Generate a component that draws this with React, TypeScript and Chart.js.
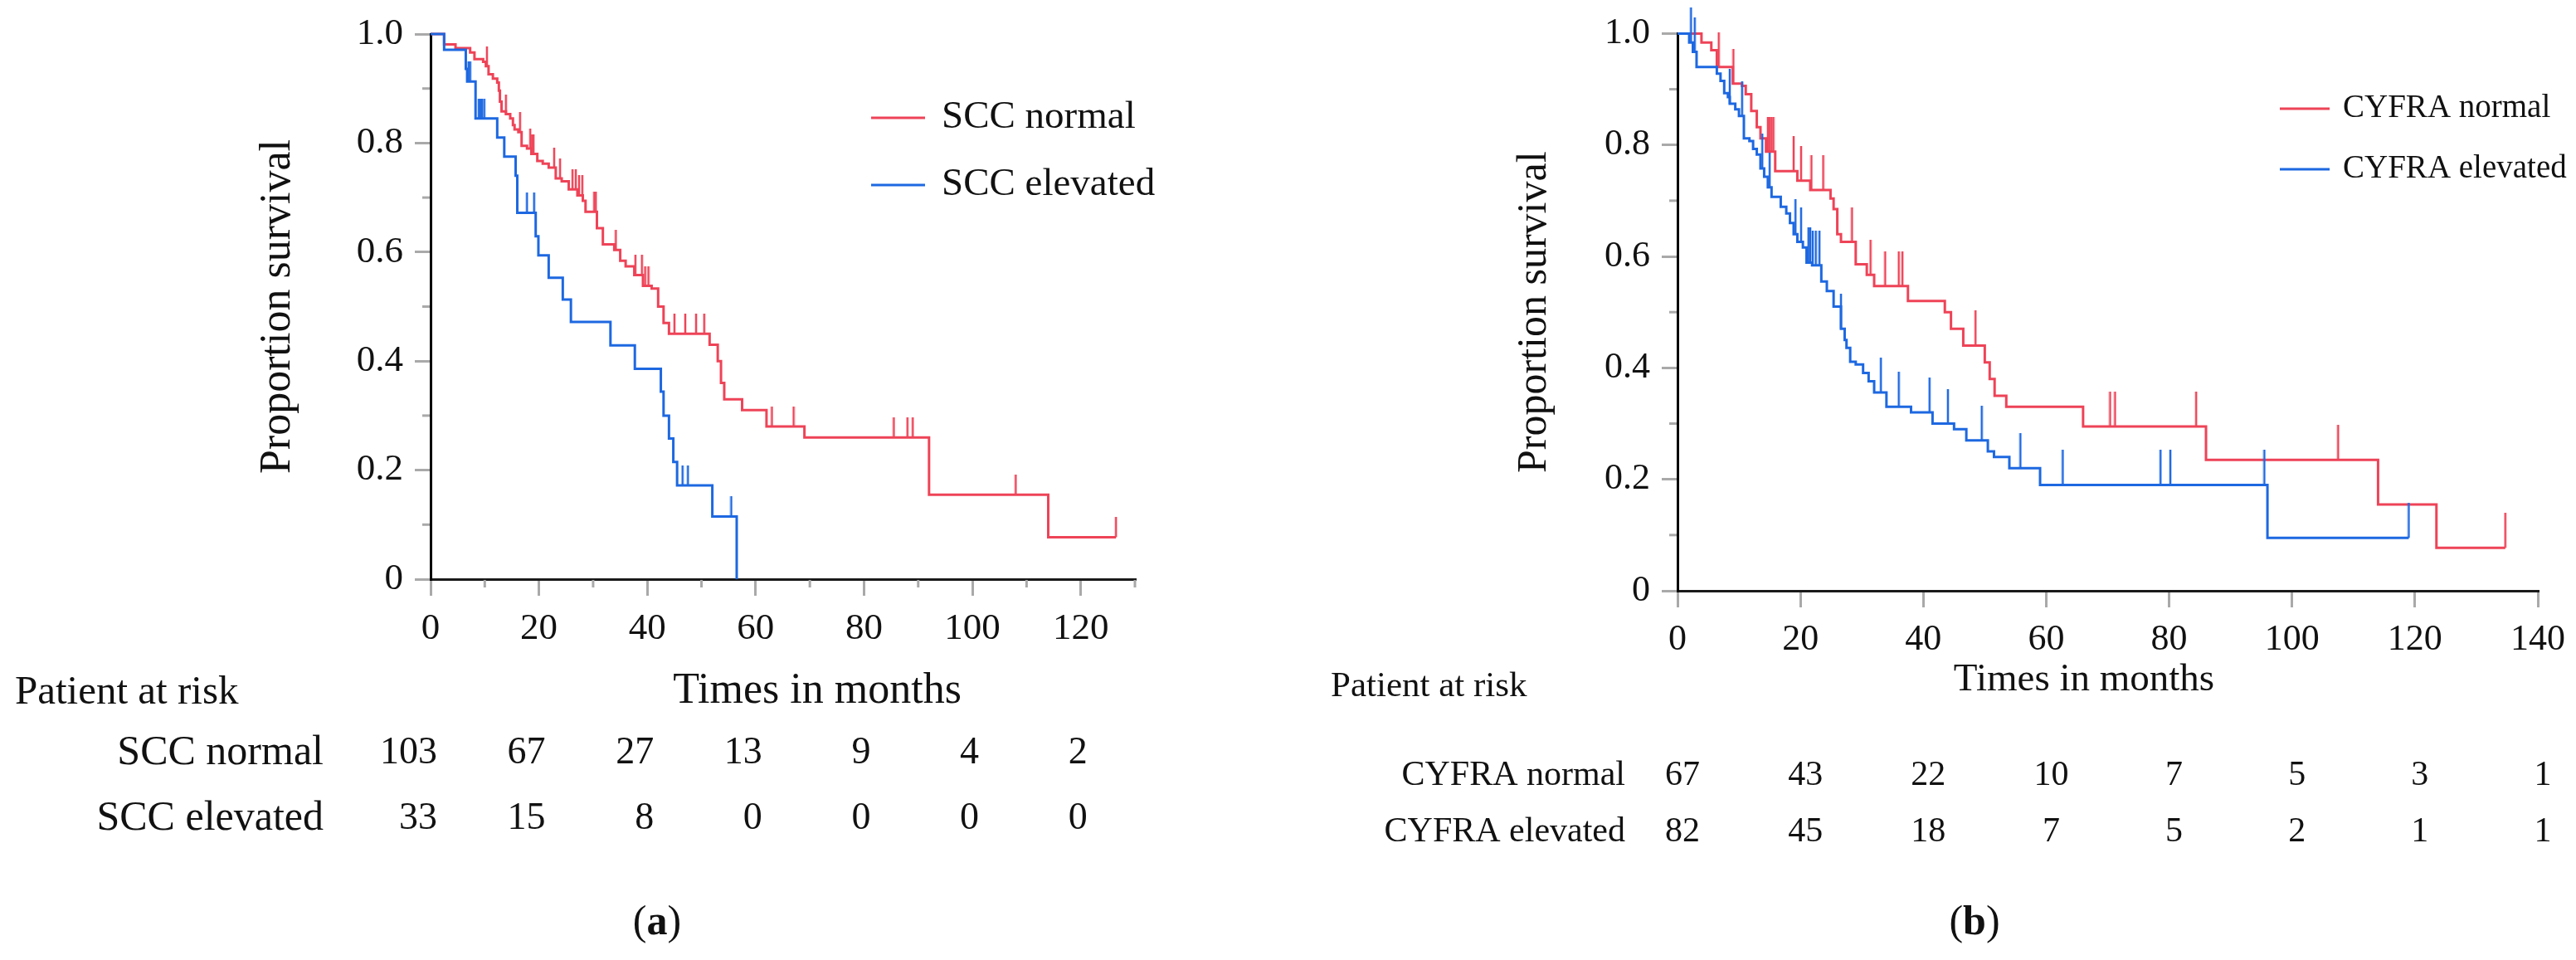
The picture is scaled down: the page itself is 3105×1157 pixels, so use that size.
import React, { useEffect, useRef } from 'react';
import { Chart, registerables } from 'chart.js';

Chart.register(...registerables);

const RED = '#EE4357';
const BLUE = '#1D68E1';
const TICK_GRAY = '#a9a9a9';
const FONT = '"Liberation Serif", "Times New Roman", serif';

// ---------------- Panel (a): SCC ----------------
const sccNormalTimes = [0, 2.5, 4.6, 7.3, 8.1, 9.7, 10.2, 10.7, 11.5, 12.3, 12.6, 12.8, 13.1, 13.9, 14.7, 15.2, 15.5, 16.2, 16.8, 17.8, 18.6, 19.7, 20.7, 21.8, 23.1, 24.2, 25.5, 27.1, 28.1, 28.6, 30.7, 31.8, 33.9, 35.0, 36.0, 37.6, 39.2, 40.8, 42.0, 43.0, 44.0, 51.5, 53.0, 53.6, 54.2, 57.5, 62.0, 69.0, 92.0, 114.0, 126.5];
const sccNormalSurv = [1, 0.981, 0.974, 0.966, 0.954, 0.949, 0.941, 0.926, 0.918, 0.911, 0.896, 0.876, 0.858, 0.853, 0.845, 0.833, 0.825, 0.82, 0.795, 0.79, 0.78, 0.767, 0.762, 0.755, 0.735, 0.73, 0.715, 0.704, 0.694, 0.674, 0.644, 0.614, 0.604, 0.584, 0.574, 0.558, 0.538, 0.533, 0.5, 0.47, 0.45, 0.43, 0.4, 0.36, 0.33, 0.31, 0.28, 0.26, 0.155, 0.077, 0.077];
const sccNormalCensored = [10.4, 13.9, 16.5, 18.4, 18.7, 19.0, 22.8, 23.9, 26.2, 26.8, 27.4, 28.0, 30.2, 30.5, 34.2, 37.8, 39.0, 39.6, 40.2, 45.0, 47.0, 49.0, 50.5, 63.0, 67.0, 85.5, 88.0, 89.0, 108.0, 126.5];

const sccElevatedTimes = [0, 2.5, 6.5, 6.75, 8.3, 12.3, 13.6, 15.7, 16.0, 19.4, 19.9, 21.8, 24.4, 25.9, 33.2, 37.7, 42.5, 43.0, 44.0, 44.8, 45.5, 52.0, 56.5];
const sccElevatedSurv = [1, 0.971, 0.936, 0.913, 0.845, 0.81, 0.775, 0.74, 0.672, 0.629, 0.594, 0.553, 0.513, 0.472, 0.429, 0.386, 0.344, 0.3, 0.258, 0.215, 0.172, 0.115, 0];
const sccElevatedCensored = [7.0, 7.3, 8.9, 9.2, 9.5, 9.9, 17.8, 19.1, 46.5, 47.5, 55.5];

const sccSeriesLabels = ['SCC normal', 'SCC elevated'];
const sccRiskTimes = [0, 20, 40, 60, 80, 100, 120];
const sccRiskNormal = [103, 67, 27, 13, 9, 4, 2];
const sccRiskElevated = [33, 15, 8, 0, 0, 0, 0];

// ---------------- Panel (b): CYFRA ----------------
const cyfraNormalTimes = [0, 3.9, 5.5, 6.4, 9.0, 10.5, 11.1, 12.0, 12.9, 13.5, 14.4, 15.9, 19.5, 21.6, 24.9, 25.4, 26.0, 26.6, 29.0, 30.8, 32.0, 37.5, 43.5, 44.5, 46.5, 50.0, 50.8, 51.6, 53.5, 66.0, 86.0, 114.0, 123.5, 134.7];
const cyfraNormalSurv = [1, 0.984, 0.97, 0.94, 0.91, 0.906, 0.891, 0.861, 0.832, 0.812, 0.788, 0.753, 0.736, 0.719, 0.704, 0.685, 0.64, 0.626, 0.586, 0.567, 0.547, 0.52, 0.5, 0.47, 0.44, 0.41, 0.38, 0.35, 0.33, 0.295, 0.235, 0.155, 0.077, 0.077];
const cyfraNormalCensored = [6.7, 9.1, 14.7, 15.0, 15.3, 15.6, 18.9, 20.1, 21.8, 23.7, 28.4, 31.4, 33.8, 36.0, 36.6, 48.5, 70.4, 71.2, 84.4, 107.5, 134.7];

const cyfraElevatedTimes = [0, 1.9, 2.5, 3.1, 6.4, 7.0, 7.6, 8.2, 8.5, 9.4, 10.0, 10.8, 11.7, 12.3, 12.9, 13.5, 14.1, 14.7, 15.3, 16.8, 17.7, 18.3, 18.9, 19.5, 20.4, 21.0, 21.9, 23.4, 24.3, 25.4, 26.6, 27.2, 27.5, 28.1, 29.0, 30.2, 31.1, 32.0, 34.0, 38.0, 41.5, 45.0, 47.0, 50.5, 51.5, 54.0, 59.0, 96.0, 119.0];
const cyfraElevatedSurv = [1, 0.984, 0.967, 0.94, 0.928, 0.915, 0.893, 0.886, 0.874, 0.864, 0.852, 0.812, 0.807, 0.793, 0.783, 0.758, 0.743, 0.724, 0.707, 0.689, 0.677, 0.66, 0.64, 0.626, 0.616, 0.589, 0.584, 0.555, 0.538, 0.51, 0.47, 0.45, 0.436, 0.411, 0.406, 0.391, 0.376, 0.356, 0.33, 0.32, 0.3, 0.29, 0.27, 0.25, 0.24, 0.22, 0.19, 0.095, 0.095];
const cyfraElevatedCensored = [2.2, 2.8, 8.5, 10.5, 13.8, 15.0, 19.2, 20.1, 21.3, 21.6, 22.0, 22.5, 23.1, 26.6, 33.1, 36.0, 41.0, 44.0, 49.5, 55.8, 62.7, 78.6, 80.2, 95.5, 119.0];

const cyfraSeriesLabels = ['CYFRA normal', 'CYFRA elevated'];
const cyfraRiskTimes = [0, 20, 40, 60, 80, 100, 120, 140];
const cyfraRiskNormal = [67, 43, 22, 10, 7, 5, 3, 1];
const cyfraRiskElevated = [82, 45, 18, 7, 5, 2, 1, 1];

const yMinorTicks = [0.1, 0.3, 0.5, 0.7, 0.9];
const sccXMinorTicks = [10, 30, 50, 70, 90, 110, 130];

type Series = { label: string; color: string; times: number[]; surv: number[]; censored: number[] };

interface PanelCfg {
  key: string;
  left: number; width: number;
  padLeft: number; padRight: number; padTop: number;
  yWidth: number; xHeight: number;
  xMax: number; xMinor: number[];
  tickFont: number;
  yTitleFont: number;
  xTitle: { x: number; y: number; font: number };
  censorH: number;
  series: Series[];
  legend: { x1: number; x2: number; tx: number; ys: number[]; font: number };
  risk: { times: number[]; rows: number[][]; labels: string[]; font: number; labelFont: number; headFont: number; headX: number; headY: number; labelRight: number; rowYs: number[]; align: 'right' | 'center'; dx: number };
  caption: { letter: string; x: number; y: number; font: number };
}

function survAt(times: number[], surv: number[], t: number) {
  let v = surv[0];
  for (let i = 0; i < times.length; i++) {
    if (times[i] <= t) v = surv[i];
    else break;
  }
  return v;
}

function censorMark(color: string, h: number) {
  const c = document.createElement('canvas');
  c.width = 4;
  c.height = h * 2;
  const g = c.getContext('2d')!;
  g.fillStyle = color;
  g.fillRect(0.75, 0, 2.5, h);
  return c;
}

const panelA: PanelCfg = {
  key: 'a', left: 0, width: 1552,
  padLeft: 300, padRight: 184, padTop: 38,
  yWidth: 219, xHeight: 459,
  xMax: 130, xMinor: sccXMinorTicks,
  tickFont: 45,
  yTitleFont: 52,
  xTitle: { x: 985, y: 833, font: 52 },
  censorH: 24,
  series: [
    { label: sccSeriesLabels[1], color: BLUE, times: sccElevatedTimes, surv: sccElevatedSurv, censored: sccElevatedCensored },
    { label: sccSeriesLabels[0], color: RED, times: sccNormalTimes, surv: sccNormalSurv, censored: sccNormalCensored },
  ],
  legend: { x1: 1050, x2: 1115, tx: 1135, ys: [223, 142], font: 47 },
  risk: { times: sccRiskTimes, rows: [sccRiskNormal, sccRiskElevated], labels: sccSeriesLabels, font: 46, labelFont: 50, headFont: 49, headX: 18, headY: 835, labelRight: 390, rowYs: [908, 987], align: 'right', dx: 8 },
  caption: { letter: 'a', x: 792, y: 1113, font: 50 },
};

const panelB: PanelCfg = {
  key: 'b', left: 1552, width: 1553,
  padLeft: 264, padRight: 34, padTop: 39,
  yWidth: 206, xHeight: 445,
  xMax: 140, xMinor: [],
  tickFont: 44,
  yTitleFont: 50,
  xTitle: { x: 960, y: 820, font: 47 },
  censorH: 42,
  series: [
    { label: cyfraSeriesLabels[1], color: BLUE, times: cyfraElevatedTimes, surv: cyfraElevatedSurv, censored: cyfraElevatedCensored },
    { label: cyfraSeriesLabels[0], color: RED, times: cyfraNormalTimes, surv: cyfraNormalSurv, censored: cyfraNormalCensored },
  ],
  legend: { x1: 1196, x2: 1256, tx: 1272, ys: [204, 131], font: 39 },
  risk: { times: cyfraRiskTimes, rows: [cyfraRiskNormal, cyfraRiskElevated], labels: cyfraSeriesLabels, font: 42, labelFont: 42, headFont: 43, headX: 52, headY: 828, labelRight: 407, rowYs: [935, 1003], align: 'center', dx: 6 },
  caption: { letter: 'b', x: 828, y: 1113, font: 50 },
};

function overlayPlugin(p: PanelCfg) {
  return {
    id: 'overlay_' + p.key,
    afterDraw(chart: any) {
      const ctx: CanvasRenderingContext2D = chart.ctx;
      const { left, bottom } = chart.chartArea;
      const xs = chart.scales.x;
      const ys = chart.scales.y;
      ctx.save();
      // minor ticks
      ctx.strokeStyle = TICK_GRAY;
      ctx.lineWidth = 3;
      yMinorTicks.forEach((v) => {
        const y = ys.getPixelForValue(v);
        ctx.beginPath();
        ctx.moveTo(left - 10, y);
        ctx.lineTo(left - 1, y);
        ctx.stroke();
      });
      p.xMinor.forEach((v) => {
        const x = xs.getPixelForValue(v);
        ctx.beginPath();
        ctx.moveTo(x, bottom + 1);
        ctx.lineTo(x, bottom + 10);
        ctx.stroke();
      });
      // x-axis title
      ctx.fillStyle = '#111';
      ctx.textBaseline = 'middle';
      ctx.textAlign = 'center';
      ctx.font = `${p.xTitle.font}px ${FONT}`;
      ctx.fillText('Times in months', p.xTitle.x, p.xTitle.y);
      // legend
      ctx.textAlign = 'left';
      ctx.font = `${p.legend.font}px ${FONT}`;
      p.series.forEach((s, i) => {
        const y = p.legend.ys[i];
        ctx.strokeStyle = s.color;
        ctx.lineWidth = 3;
        ctx.beginPath();
        ctx.moveTo(p.legend.x1, y);
        ctx.lineTo(p.legend.x2, y);
        ctx.stroke();
        ctx.fillStyle = '#111';
        ctx.fillText(s.label, p.legend.tx, y);
      });
      // risk table
      const r = p.risk;
      ctx.fillStyle = '#111';
      ctx.font = `${r.headFont}px ${FONT}`;
      ctx.textAlign = 'left';
      ctx.fillText('Patient at risk', r.headX, r.headY);
      r.rows.forEach((row, ri) => {
        const y = r.rowYs[ri];
        ctx.font = `${r.labelFont}px ${FONT}`;
        ctx.textAlign = 'right';
        ctx.fillText(r.labels[ri], r.labelRight, y);
        ctx.font = `${r.font}px ${FONT}`;
        ctx.textAlign = r.align;
        row.forEach((n, ci) => {
          const x = xs.getPixelForValue(r.times[ci]) + r.dx;
          ctx.fillText(String(n), x, y);
        });
      });
      // caption (a) / (b)
      const c = p.caption;
      const normal = `${c.font}px ${FONT}`;
      const bold = `bold ${c.font}px ${FONT}`;
      ctx.font = normal;
      const wOpen = ctx.measureText('(').width;
      const wClose = ctx.measureText(')').width;
      ctx.font = bold;
      const wLetter = ctx.measureText(c.letter).width;
      let x = c.x - (wOpen + wLetter + wClose) / 2;
      ctx.textAlign = 'left';
      ctx.font = normal;
      ctx.fillText('(', x, c.y);
      x += wOpen;
      ctx.font = bold;
      ctx.fillText(c.letter, x, c.y);
      x += wLetter;
      ctx.font = normal;
      ctx.fillText(')', x, c.y);
      ctx.restore();
    },
  };
}

function buildChart(canvas: HTMLCanvasElement, p: PanelCfg) {
  const datasets: any[] = [];
  p.series.forEach((s) => {
    datasets.push({
      label: s.label,
      data: s.times.map((t, i) => ({ x: t, y: s.surv[i] })),
      borderColor: s.color,
      borderWidth: 3,
      stepped: true,
      pointRadius: 0,
      fill: false,
      clip: false,
    });
    datasets.push({
      label: s.label + ' censored',
      data: s.censored.map((t) => ({ x: t, y: survAt(s.times, s.surv, t) })),
      showLine: false,
      pointStyle: censorMark(s.color, p.censorH),
      pointRadius: 5,
      borderColor: s.color,
      backgroundColor: s.color,
      clip: false,
    });
  });

  return new Chart(canvas, {
    type: 'line',
    data: { datasets },
    options: {
      animation: false,
      responsive: false,
      devicePixelRatio: 1,
      events: [],
      layout: { padding: { left: p.padLeft, right: p.padRight, top: p.padTop, bottom: 0 } },
      plugins: { legend: { display: false }, tooltip: { enabled: false }, title: { display: false } },
      scales: {
        x: {
          type: 'linear',
          min: 0,
          max: p.xMax,
          afterFit: (scale: any) => { scale.height = p.xHeight; },
          ticks: {
            stepSize: 20,
            includeBounds: false,
            autoSkip: false,
            maxRotation: 0,
            padding: 13,
            color: '#111',
            font: { family: FONT, size: p.tickFont },
            callback: (v: any) => String(v),
          },
          grid: { display: true, drawOnChartArea: false, drawTicks: true, tickLength: 20, color: TICK_GRAY, lineWidth: 3 },
          border: { display: true, color: '#1a1a1a', width: 3 },
          title: { display: false },
        },
        y: {
          type: 'linear',
          min: 0,
          max: 1,
          afterFit: (scale: any) => { scale.width = p.yWidth; },
          ticks: {
            stepSize: 0.2,
            padding: 14,
            color: '#111',
            font: { family: FONT, size: p.tickFont },
            callback: (v: any) => (Number(v) === 0 ? '0' : Number(v).toFixed(1)),
          },
          grid: { display: true, drawOnChartArea: false, drawTicks: true, tickLength: 19, color: TICK_GRAY, lineWidth: 3 },
          border: { display: true, color: '#000', width: 3 },
          title: {
            display: true,
            text: 'Proportion survival',
            color: '#111',
            font: { family: FONT, size: p.yTitleFont },
            padding: { top: 4, bottom: 4 },
          },
        },
      },
    } as any,
    plugins: [overlayPlugin(p)],
  });
}

function Panel({ cfg }: { cfg: PanelCfg }) {
  const ref = useRef<HTMLCanvasElement | null>(null);
  useEffect(() => {
    if (!ref.current) return;
    const chart = buildChart(ref.current, cfg);
    return () => chart.destroy();
  }, [cfg]);
  return (
    <canvas
      ref={ref}
      width={cfg.width}
      height={1157}
      style={{ position: 'absolute', left: cfg.left, top: 0, width: cfg.width, height: 1157 }}
    />
  );
}

export default function App() {
  return (
    <div style={{ position: 'fixed', left: 0, top: 0, width: 3105, height: 1157, background: '#fff', overflow: 'hidden' }}>
      <Panel cfg={panelA} />
      <Panel cfg={panelB} />
    </div>
  );
}
